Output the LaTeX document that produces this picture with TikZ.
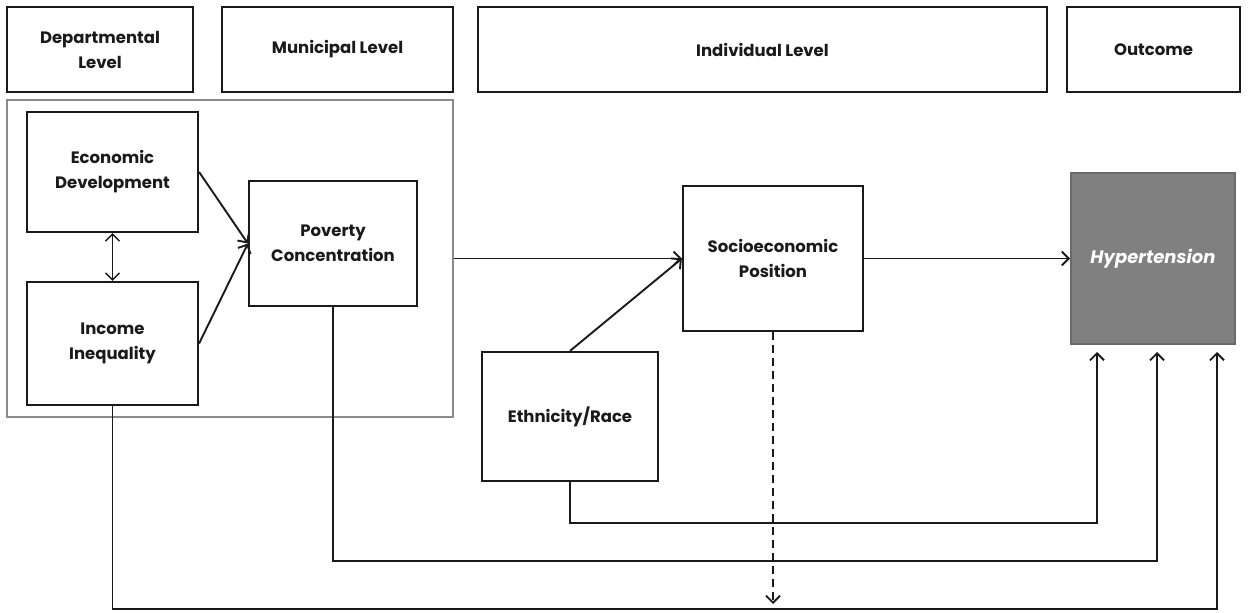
\documentclass[tikz,border=0pt]{standalone}
\usepackage{fontspec}
\setmainfont{Poppins}
\usetikzlibrary{arrows.meta,calc}
\definecolor{ink}{HTML}{1A1A1A}
\definecolor{framegrey}{HTML}{8A8A8A}
\definecolor{outfill}{HTML}{808080}
\definecolor{outedge}{HTML}{6A6A6A}
\begin{document}
\begin{tikzpicture}[x=1pt,y=-1pt,
  txt/.style={font=\fontsize{16.5}{25}\selectfont\bfseries, text=ink, align=center},
  box/.style={draw=ink, line width=2.2pt, fill=white, inner sep=0pt, txt},
  header/.style={box},
  region/.style={draw=framegrey, line width=2.2pt, inner sep=0pt},
  outcomebox/.style={draw=outedge, line width=1.8pt, fill=outfill, inner sep=0pt,
    font=\fontsize{18}{24}\selectfont\bfseries\itshape, text=white},
  link/.style={draw=ink, line width=1.9pt},
  tip/.style={-{Straight Barb[length=7pt,width=14pt,line width=1.9pt]}},
  twotip/.style={{Straight Barb[length=7pt,width=14pt,line width=1.5pt]}-{Straight Barb[length=7pt,width=14pt,line width=1.5pt]}}
]
\useasboundingbox (0,0) rectangle (1248,613);

% level headers
\node[header, minimum width=186pt, minimum height=85pt] (hdept) at (100,49.5) {Departmental\\Level};
\node[header, minimum width=231pt, minimum height=85pt] (hmuni) at (337.5,49.5) {Municipal Level};
\node[header, minimum width=569pt, minimum height=85pt] (hind) at (762.5,49.5) {Individual Level};
\node[header, minimum width=173pt, minimum height=85pt] (hout) at (1153.5,49.5) {Outcome};

% area-level frame
\node[region, minimum width=446pt, minimum height=317pt] (area) at (230,258.5) {};

% factors
\node[box, minimum width=171pt, minimum height=120pt] (econ) at (112.5,172) {Economic\\Development};
\node[box, minimum width=171pt, minimum height=123pt] (ineq) at (112.5,343.5) {Income\\Inequality};
\node[box, minimum width=168pt, minimum height=125pt] (pov) at (333,243.5) {Poverty\\Concentration};
\node[box, minimum width=180pt, minimum height=145pt] (ses) at (773,258.5) {Socioeconomic\\Position};
\node[box, minimum width=176pt, minimum height=129pt] (eth) at (570,416.5) {Ethnicity/Race};
\node[outcomebox, minimum width=164pt, minimum height=171pt] (hyp) at (1153,258.5) {Hypertension};

% arrow ends below the outcome box
\coordinate (inA) at (1097,352);
\coordinate (inB) at (1157,352);
\coordinate (inC) at (1217,352);
\coordinate (drop) at (773,604);

% direct paths
\draw[link, line width=1.5pt, twotip] (econ.south) -- (ineq.north);
\draw[link, tip] (econ.east) -- (pov.west);
\draw[link, tip] (ineq.east) -- (pov.west);
\draw[link, tip] (area.east) -- (ses.west);
\draw[link, tip] (eth.north) -- (ses.west);
\draw[link, tip] (ses.east) -- (hyp.west);

% routed paths into the outcome
\draw[link, tip] (eth.south) |- (1097,523) -- (inA);
\draw[link, tip] (pov.south) |- (1157,561) -- (inB);
\draw[link, tip] (ineq.south) |- (1217,609) -- (inC);

% dashed pathway
\draw[link, tip, dash pattern=on 8pt off 5pt] (ses.south) -- (drop);
\end{tikzpicture}
\end{document}
